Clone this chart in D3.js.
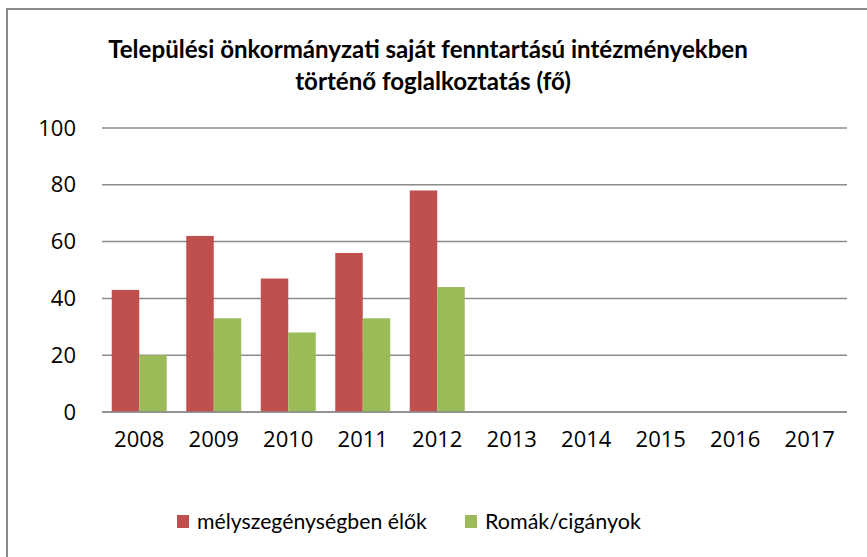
<!DOCTYPE html>
<html>
<head>
<meta charset="utf-8">
<script src="https://cdn.jsdelivr.net/npm/d3@7"></script>
<style>
  body { margin: 0; background: #fff; }
  svg { display: block; font-family: Lato, "Open Sans", sans-serif; }
</style>
</head>
<body>
<div id="chart"></div>
<script>
// data
const years = ["2008", "2009", "2010", "2011", "2012", "2013", "2014", "2015", "2016", "2017"];
const seriesNames = ["mélyszegénységben élők", "Romák/cigányok"];
const melyszegenyseg = [43, 62, 47, 56, 78, null, null, null, null, null];
const romak = [20, 33, 28, 33, 44, null, null, null, null, null];
const yTicks = [0, 20, 40, 60, 80, 100];
const titleLines = ["Települési önkormányzati saját fenntartású intézményekben", "történő foglalkoztatás (fő)"];

const colors = ["#C0504D", "#9BBB59"];
const width = 867, height = 557;
const plot = { left: 102, right: 847, top: 128, bottom: 412 };

const svg = d3.select("#chart").append("svg")
    .attr("width", width)
    .attr("height", height);

// outer chart border (only top and left edges show in the crop)
svg.append("rect")
   .attr("x", 7).attr("y", 9)
   .attr("width", width + 20).attr("height", height + 20)
   .attr("fill", "#fff")
   .attr("stroke", "#8a8a8a")
   .attr("stroke-width", 2);

// shrink/grow font so the text spans the width seen in the picture
function fitText(sel, target) {
    const w = sel.node().getComputedTextLength();
    const fs = parseFloat(sel.style("font-size"));
    sel.style("font-size", (fs * target / w) + "px");
}

// title
const title1 = svg.append("text")
    .attr("x", 428).attr("y", 58)
    .attr("text-anchor", "middle")
    .style("font-weight", "bold")
    .style("font-size", "18px")
    .style("fill", "#000")
    .text(titleLines[0]);
fitText(title1, 640);
svg.append("text")
    .attr("x", 433).attr("y", 90)
    .attr("text-anchor", "middle")
    .style("font-weight", "bold")
    .style("font-size", title1.style("font-size"))
    .style("fill", "#000")
    .text(titleLines[1]);

const y = d3.scaleLinear().domain([0, 100]).range([plot.bottom, plot.top]);
const x = d3.scaleBand().domain(years).range([plot.left, plot.right]).padding(0);
const xSub = d3.scaleBand().domain([0, 1]).range([0, x.bandwidth()])
               .paddingInner(0).paddingOuter(0.355);

// gridlines
svg.append("g")
   .selectAll("line")
   .data(yTicks)
   .enter()
   .append("line")
   .attr("x1", plot.left).attr("x2", plot.right)
   .attr("y1", d => y(d)).attr("y2", d => y(d))
   .attr("stroke", "#8c8c8c")
   .attr("stroke-width", 1.5);

// y axis labels
const yAxis = svg.append("g")
    .attr("transform", `translate(${plot.left}, 0)`)
    .call(d3.axisLeft(y).tickValues(yTicks).tickSize(0).tickPadding(26));
yAxis.select(".domain").remove();
yAxis.selectAll("text")
     .style("font-family", "\"Open Sans\", sans-serif")
     .style("font-size", "22px")
     .style("fill", "#000");

// x axis labels
const xAxis = svg.append("g")
    .attr("transform", `translate(0, ${plot.bottom})`)
    .call(d3.axisBottom(x).tickSize(0).tickPadding(19));
xAxis.select(".domain").remove();
xAxis.selectAll("text")
     .style("font-family", "\"Open Sans\", sans-serif")
     .style("font-size", "22px")
     .style("fill", "#000");

// bars
const allSeries = [melyszegenyseg, romak];
allSeries.forEach((vals, s) => {
    svg.append("g")
       .selectAll("rect")
       .data(years.map((yr, i) => ({ yr, v: vals[i] })).filter(d => d.v != null))
       .enter()
       .append("rect")
       .attr("x", d => x(d.yr) + xSub(s))
       .attr("width", xSub.bandwidth())
       .attr("y", d => y(d.v))
       .attr("height", d => y(0) - y(d.v))
       .attr("fill", colors[s]);
});

// redraw baseline on top of bars
svg.append("line")
   .attr("x1", plot.left).attr("x2", plot.right)
   .attr("y1", y(0)).attr("y2", y(0))
   .attr("stroke", "#8c8c8c")
   .attr("stroke-width", 1.5);

// legend
const legendPos = [177, 465];
const legendWidths = [230, 156];
seriesNames.forEach((name, i) => {
    const g = svg.append("g").attr("transform", `translate(${legendPos[i]}, 515)`);
    g.append("rect")
     .attr("width", 12).attr("height", 13)
     .attr("fill", colors[i]);
    const t = g.append("text")
     .attr("x", 20).attr("y", 14)
     .style("font-size", "22px")
     .style("fill", "#000")
     .text(name);
    fitText(t, legendWidths[i]);
});
</script>
</body>
</html>
